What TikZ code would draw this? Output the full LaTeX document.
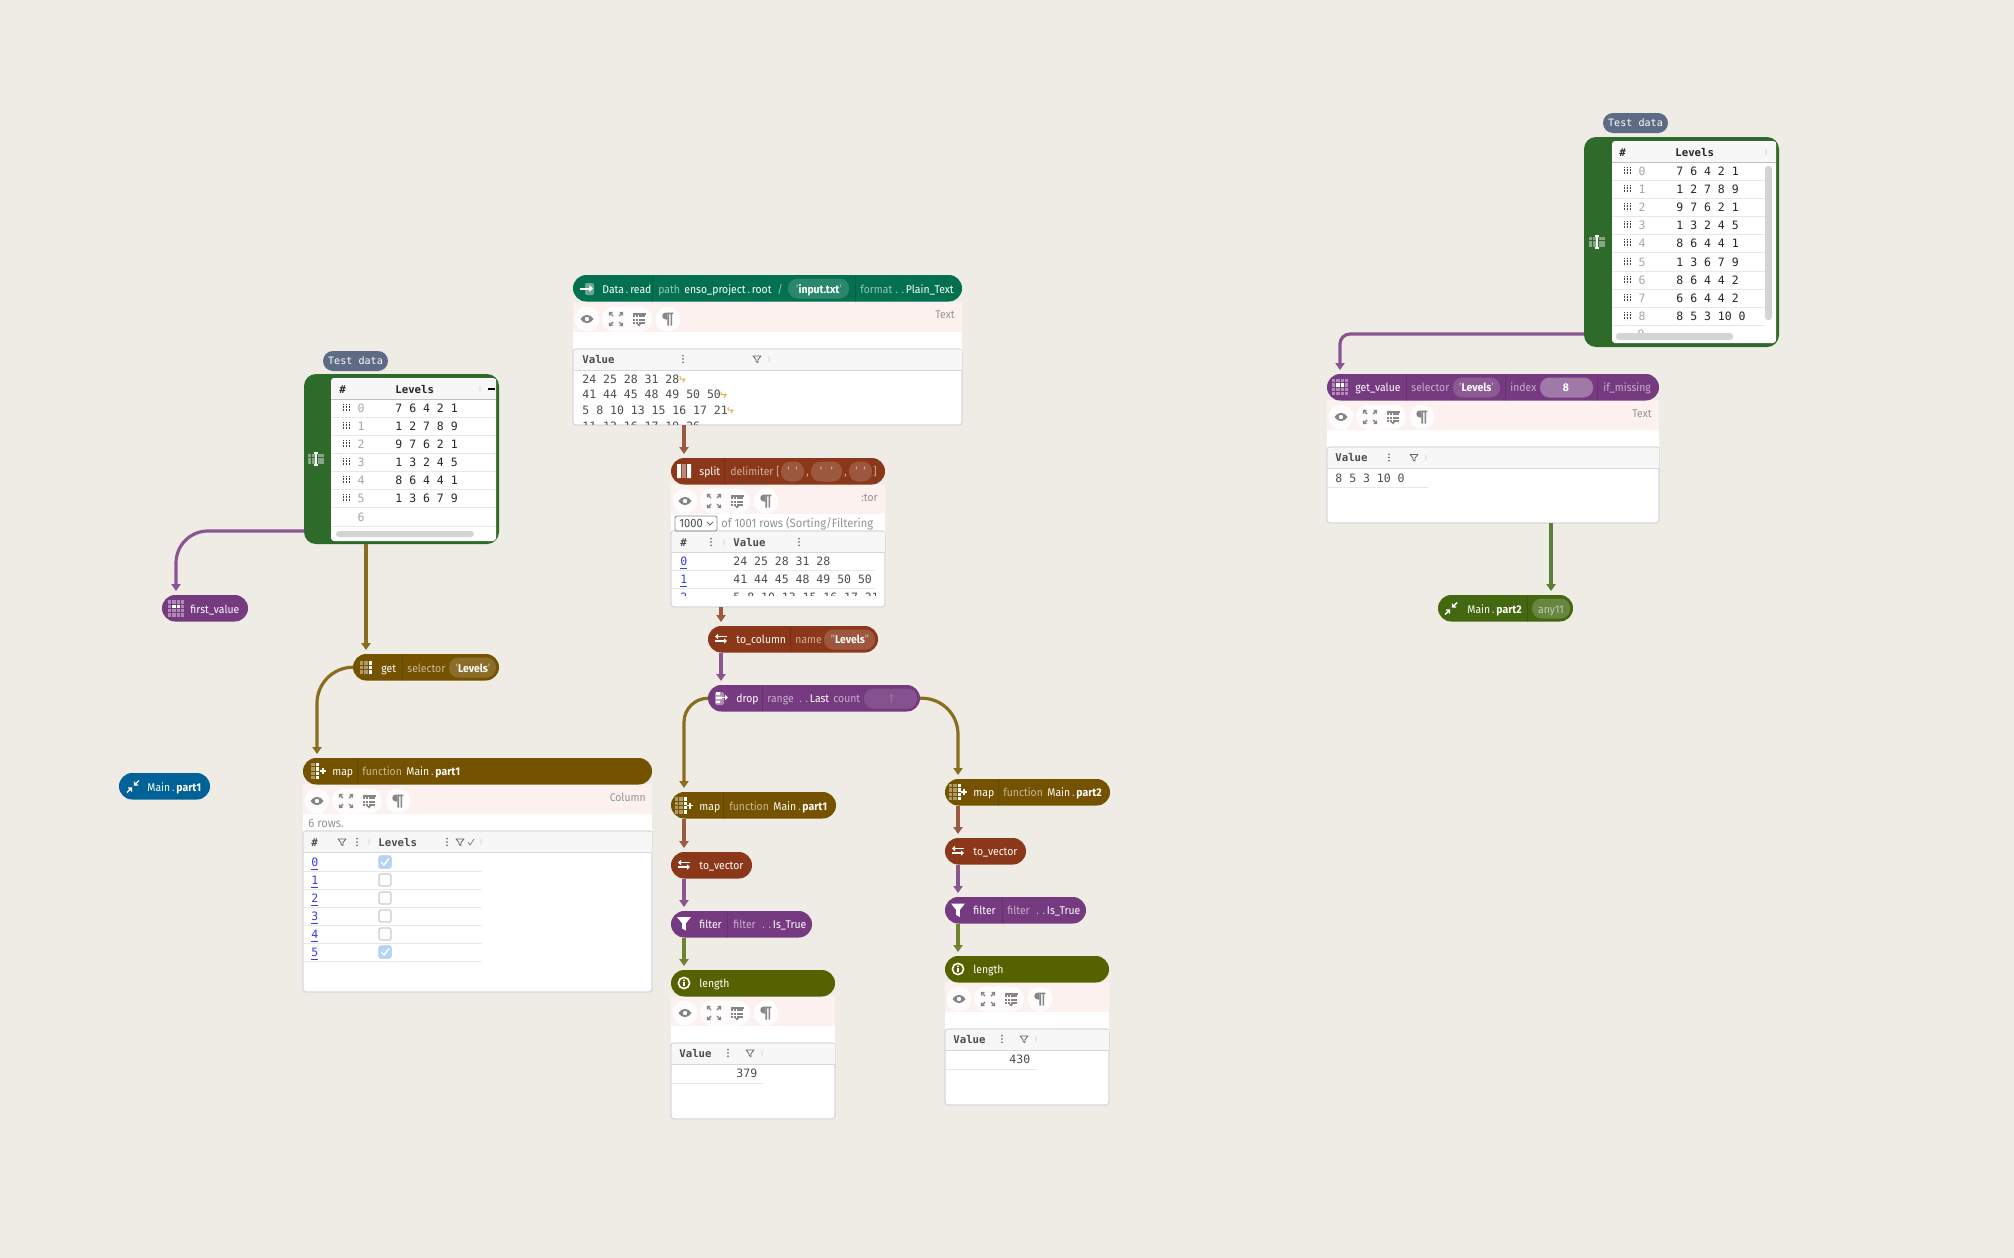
\documentclass[tikz,border=0pt]{standalone}
\usepackage{fontspec}
\setmainfont[FakeStretch=.93]{Fira Sans}
\setmonofont{DejaVu Sans Mono}
\usetikzlibrary{arrows.meta}

\definecolor{canvas}{HTML}{EFECE6}
\definecolor{nodegreen}{HTML}{2E6A2A}
\definecolor{nodepurple}{HTML}{753A80}
\definecolor{nodebrown}{HTML}{8B381A}
\definecolor{nodegold}{HTML}{745200}
\definecolor{nodeolive}{HTML}{556200}
\definecolor{nodeteal}{HTML}{03714F}
\definecolor{nodeblue}{HTML}{006296}
\definecolor{nodeleaf}{HTML}{436810}
\definecolor{nodeslate}{HTML}{5E6B85}
\definecolor{wirepurple}{HTML}{8B5592}
\definecolor{wiregold}{HTML}{8A6D1F}
\definecolor{wirebrown}{HTML}{9B5A3F}
\definecolor{wireolive}{HTML}{6F8232}
\definecolor{wireleaf}{HTML}{5A7F36}
\definecolor{panelpink}{HTML}{FCF1EF}
\definecolor{framegray}{HTML}{D6D7DF}
\definecolor{headgray}{HTML}{F7F7F7}
\definecolor{rulegray}{HTML}{E6E8EF}
\definecolor{icongray}{HTML}{858585}
\definecolor{linkblue}{HTML}{3A3AF0}
\definecolor{tickblue}{HTML}{B3D4F7}
\definecolor{nlorange}{HTML}{E8A84C}

\tikzset{
  pill/.style={rounded corners=6.6pt,text=white},
  wire/.style={line width=1.6pt,-{Triangle[length=3.5pt,width=4.6pt]},shorten >=2pt},
  vizframe/.style={draw=framegray,line width=.6pt,fill=white,rounded corners=1.5pt},
  uitext/.style={anchor=base west,inner sep=0pt,text=white,font=\fontsize{5.6}{6.6}\selectfont},
  dim/.style={text opacity=.6},
  graytext/.style={text=gray!85},
  mono/.style={anchor=base west,inner sep=0pt,text=black!85,font=\fontsize{5.75}{7}\ttfamily\selectfont},
  monogray/.style={mono,text=black!70},
  monohead/.style={font=\fontsize{5.35}{7}\ttfamily\bfseries\selectfont},
  iconline/.style={draw=icongray,line width=.7pt},
  inkline/.style={draw=white,line width=.7pt}
}

\newcounter{lblc}
% x, y of the line's middle, text
\newcommand{\uilbl}[4][]{\stepcounter{lblc}\node[uitext,#1] (ui\thelblc) at (#2,#3+4.5) {#4};}
\newcommand{\monolbl}[4][]{\stepcounter{lblc}\node[mono,#1] (mono\thelblc) at (#2,#3+4.2) {#4};}
\newcommand{\rectnode}[6][]{\node[inner sep=0pt,outer sep=0pt,minimum width={((#5)-(#3))*.5pt},minimum height={((#6)-(#4))*.5pt},#1] (#2) at ({((#3)+(#5))/2},{((#4)+(#6))/2}) {};}
\newcommand{\dotsep}{\,\textcolor{white!65!gray}{.}\,}

% name, x1, x2, top, colour, x of the wires
\newcommand{\pillnode}[6]{\rectnode[pill,fill=#5]{#1}{#2}{#4}{#3}{#4+26.5}\coordinate (#1-port) at (#6,#4+13);}
\newcommand{\pillsep}[2]{\draw[black,draw opacity=.14,line width=.5pt] (#1,#2) -- (#1,#2+26.5);}
\newcommand{\widget}[4][.16]{\fill[white,fill opacity=#1,rounded corners=4.7pt] (#2,#3+3.5) rectangle (#4,#3+23.5);}

% icons, all at x, y
\newcommand{\cellicon}[5]{\begin{scope}[shift={(#1,#2)}]
  \foreach \c in {1,...,#3} \foreach \r in {1,...,#4}
    \fill[white,fill opacity=.42] ({(\c-#3/2-.5)*4.4-1.7},{(\r-#4/2-.5)*4.4-1.7}) rectangle ++(3.4,3.4);
  \foreach \c/\r in {#5}
    \fill[white] ({(\c-#3/2-.5)*4.4-1.7},{(\r-#4/2-.5)*4.4-1.7}) rectangle ++(3.4,3.4);
\end{scope}}
\newcommand{\plusicon}[2]{\draw[inkline,line width=.8pt] (#1+3,#2) -- (#1+9,#2) (#1+6,#2-3) -- (#1+6,#2+3);}
\newcommand{\swapicon}[2]{\begin{scope}[shift={(#1,#2)}]
  \draw[inkline,line width=.9pt,-{Triangle[length=1.5pt,width=2.6pt]}] (6,-2.5) -- (-6,-2.5);
  \draw[inkline,line width=.9pt,-{Triangle[length=1.5pt,width=2.6pt]}] (-6,2) -- (6,2);
\end{scope}}
\newcommand{\mainicon}[2]{\begin{scope}[shift={(#1,#2)}]
  \draw[inkline] (6,-6) -- (1.5,-1.5) (1.5,-5) -- (1.5,-1.5) -- (5,-1.5);
  \draw[inkline] (-6,6) -- (-1.5,1.5) (-1.5,5) -- (-1.5,1.5) -- (-5,1.5);
\end{scope}}
\newcommand{\funnelicon}[2]{\fill[white] (#1-7,#2-6.5) -- (#1+7,#2-6.5) -- (#1+1.8,#2) -- (#1+1.8,#2+7) -- (#1-1.8,#2+5) -- (#1-1.8,#2) -- cycle;}
\newcommand{\infoicon}[2]{\draw[inkline,line width=.8pt] (#1,#2) circle (5.6);\fill[white] (#1-.8,#2-1) rectangle (#1+.8,#2+3.2) (#1-.8,#2-3.4) rectangle (#1+.8,#2-2);}
\newcommand{\cursoricon}[2]{\begin{scope}[shift={(#1,#2)}]
  \foreach \c in {-6.5,-3,3,6.5} \foreach \r in {-3.8,0,3.8}
    \fill[white,fill opacity=.42] (\c-1.5,\r-1.5) rectangle ++(3,3);
  \draw[inkline,line width=.8pt] (0,-6) -- (0,6) (-2,-6) -- (2,-6) (-2,6) -- (2,6);
\end{scope}}
\newcommand{\kebab}[2]{\fill[black!65] (#1,#2-3.2) circle (.9) (#1,#2) circle (.9) (#1,#2+3.2) circle (.9);}
\newcommand{\tickmark}[2]{\draw[rulegray,line width=.6pt] (#1,#2-3) -- (#1,#2+3);}
\newcommand{\filtericon}[2]{\draw[black!60,line width=.4pt,line join=round] (#1-4,#2-3) -- (#1+4,#2-3) -- (#1+1,#2+.5) -- (#1+1,#2+3.6) -- (#1-1,#2+2.4) -- (#1-1,#2+.5) -- cycle;}

% toolbar, frame and header of a visualization: name, x1, x2, bottom of the pill, bottom of the frame
\newcommand{\vizpanel}[5]{
  \fill[panelpink] (#2,#4) rectangle (#3,#4+30);
  \fill[white] (#2,#4+30) rectangle (#3,#4+47);
  \fill[white,fill opacity=.85] (#2+14,#4+17) circle (12.5);
  \fill[white,fill opacity=.85,rounded corners=6pt] (#2+29,#4+4.5) rectangle (#2+79,#4+29.5);
  \fill[white,fill opacity=.85] (#2+95,#4+17) circle (12.5);
  \begin{scope}[shift={(#2+14,#4+17)}]
    \fill[icongray,even odd rule] (-6.5,0) .. controls (-3,-5.5) and (3,-5.5) .. (6.5,0) .. controls (3,5.5) and (-3,5.5) .. (-6.5,0) (0,0) circle (2.3);
  \end{scope}
  \begin{scope}[shift={(#2+43,#4+17)}]
    \foreach \a/\b in {1/1,1/-1,-1/1,-1/-1}
      \draw[iconline] (\a*3,\b*3) -- (\a*6.5,\b*6.5) (\a*3.5,\b*6.5) -- (\a*6.5,\b*6.5) -- (\a*6.5,\b*3.5);
  \end{scope}
  \begin{scope}[shift={(#2+66,#4+17)}]
    \fill[icongray] (-6.5,-6.5) rectangle (6.5,-4.5);
    \foreach \c in {-6.5,-3.2,.1,3.4} \foreach \r in {-3.6,-.4,2.8}
      \fill[icongray] (\c,\r) rectangle ++(2.4,2);
    \fill[icongray] (-2,5.2) -- (2,5.2) -- (0,7.5) -- cycle;
  \end{scope}
  \begin{scope}[shift={(#2+95,#4+17)}]
    \fill[icongray] (.6,-6.5) -- (-2,-6.5) .. controls (-7,-6.5) and (-7,.5) .. (-2,.5) -- (-.6,.5) -- (-.6,-6.5) -- cycle;
    \fill[icongray] (-.6,-6.5) rectangle (1,6.5) (2.6,-6.5) rectangle (4.2,6.5) (-.6,-6.5) rectangle (5.4,-5);
  \end{scope}
  \rectnode[vizframe]{#1}{#2}{#4+47}{#3}{#5}
  \fill[headgray] (#2+.5,#4+47.5) rectangle (#3-.5,#4+68);
  \draw[framegray,line width=.5pt] (#2,#4+68) -- (#3,#4+68);
}
% one row of a test table: left of the table, y, index, values, right end of the rule
\newcommand{\testrow}[5]{
  \foreach \k in {-3,0,3}
    \draw[black!75,line width=.45pt,dash pattern=on .45pt off .35pt] (#1+15+\k,#2-4) -- (#1+15+\k,#2+4);
  \monolbl[anchor=base,text=black!35]{#1+30}{#2}{#3}
  \monolbl{#1+64}{#2}{#4}
  \draw[rulegray,line width=.5pt] (#1,#2+9) -- (#5,#2+9);
}
\newcommand{\boxrow}[3]{
  \monolbl[text=linkblue]{311}{#1}{\underline{#2}}
  \draw[black!20,line width=.6pt,fill=white,rounded corners=1pt] (379,#1-6) rectangle (391,#1+6);
  \draw[rulegray,line width=.5pt] (304,#1+9) -- (482,#1+9);
}
\newcommand{\boxtick}[1]{
  \fill[tickblue,rounded corners=1pt] (378.5,#1-6.5) rectangle (391.5,#1+6.5);
  \draw[white,line width=.7pt] (381,#1) -- (384,#1+3) -- (389,#1-3.5);
}
\newcommand{\nlmark}[2]{\draw[nlorange,line width=.5pt] (#1,#2-3) -- (#1,#2) -- (#1+5,#2) -- (#1+3,#2+3);}

\begin{document}
\begin{tikzpicture}[x=.5pt,y=-.5pt]
  \useasboundingbox[fill=canvas] (0,0) rectangle (2014,1258);

  % test data on the left
  \rectnode[pill,fill=nodeslate,rounded corners=5pt]{labelA}{323}{351}{388}{371}
  \monolbl[anchor=base,text=white,font=\fontsize{5.05}{6}\ttfamily\selectfont]{355.5}{360.5}{Test data}
  \rectnode[fill=nodegreen,rounded corners=6pt]{testA}{304}{374}{499}{544}
  \coordinate (testA-out) at (304,531);
  \cursoricon{316}{459}
  \rectnode[fill=white,rounded corners=1.5pt]{tableA}{331}{378}{496}{541}
  \fill[headgray] (331.5,378.5) rectangle (495.5,399);
  \draw[black!25,line width=.5pt] (331,399) -- (496,399);
  \monolbl[monohead]{339}{389}{\#}
  \monolbl[monohead]{395}{389}{Levels}
  \tickmark{480}{389}
  \draw[black,line width=.7pt] (488,389) -- (495,389);
  \foreach \i/\v/\y in {0/7 6 4 2 1/408,1/1 2 7 8 9/426,2/9 7 6 2 1/444,3/1 3 2 4 5/462,4/8 6 4 4 1/480,5/1 3 6 7 9/498}{
    \testrow{331}{\y}{\i}{\v}{496}
  }
  \monolbl[anchor=base,text=black!35]{361}{517}{6}
  \draw[rulegray,line width=.5pt] (331,526) -- (496,526);
  \fill[black!17,rounded corners=1.5pt] (336,531) rectangle (474,537);

  \pillnode{first}{162}{248}{595}{nodepurple}{176}
  \cellicon{176}{608.5}{4}{4}{2/2,3/2}
  \uilbl{190}{608.5}{first\_value}

  \pillnode{get}{353}{499}{654}{nodegold}{366}
  \cellicon{366}{667.5}{3}{3}{3/1,3/2,3/3}
  \uilbl{381}{667.5}{get}
  \pillsep{402}{654}
  \uilbl[dim]{407}{667.5}{selector}
  \widget{449}{654}{496}
  \uilbl[anchor=base]{473}{667.5}{\textcolor{white!60!nodegold}{'}\textbf{Levels}\textcolor{white!60!nodegold}{'}}

  \vizpanel{frameA}{303}{652}{784}{992}
  \pillnode{mapA}{303}{652}{758}{nodegold}{317}
  \cellicon{315}{771}{2}{4}{2/1,2/2,2/3,2/4}
  \plusicon{317}{771}
  \uilbl{332}{771}{map}
  \pillsep{357}{758}
  \uilbl[dim]{362}{771}{function}
  \uilbl{406}{771}{Main\dotsep\textbf{part1}}
  \uilbl[anchor=base east,graytext]{646}{797}{Column}
  \uilbl[graytext,font=\fontsize{6}{7}\selectfont]{308}{823}{6 rows.}
  \monolbl[monohead,text=black!70]{311}{842}{\#}
  \filtericon{342}{842}
  \kebab{357}{842}
  \tickmark{369}{842}
  \monolbl[monohead,text=black!70]{378}{842}{Levels}
  \kebab{447}{842}
  \filtericon{460}{842}
  \draw[black!50,line width=.4pt] (468,842) -- (470,845) -- (474,839);
  \tickmark{481}{842}
  \foreach \i/\y in {0/862,1/880,2/898,3/916,4/934,5/952}{
    \boxrow{\y}{\i}{}
  }
  \boxtick{862}
  \boxtick{952}

  \pillnode{mainA}{119}{210}{773}{nodeblue}{133}
  \mainicon{133}{786.5}
  \uilbl{147}{786.5}{Main\dotsep\textbf{part1}}

  % middle column
  \vizpanel{frameData}{573}{962}{302}{425}
  \pillnode{data}{573}{962}{275}{nodeteal}{587}
  \fill[white,fill opacity=.4,rounded corners=1pt] (585,283) rectangle (594,295);
  \draw[inkline,line width=1pt,-{Triangle[length=1.8pt,width=3.2pt]}] (580,288.5) -- (593,288.5);
  \uilbl{602}{288.5}{Data\dotsep read}
  \pillsep{652}{275}
  \uilbl[dim]{658}{288.5}{path}
  \uilbl{684}{288.5}{enso\_project\dotsep root}
  \uilbl[dim]{777}{288.5}{/}
  \widget{788}{275}{849}
  \uilbl[anchor=base]{819}{288.5}{\textcolor{white!60!nodeteal}{'}\textbf{input.txt}\textcolor{white!60!nodeteal}{'}}
  \pillsep{855}{275}
  \uilbl[dim]{860}{288.5}{format}
  \uilbl{895}{288.5}{\textcolor{white!60!nodeteal}{. .}\,Plain\_Text}
  \uilbl[anchor=base east,graytext]{955}{313.5}{Text}
  \monolbl[monohead,text=black!70]{582}{359}{Value}
  \kebab{683}{359}
  \filtericon{757}{359}
  \tickmark{769}{359}
  \begin{scope}
    \clip (574,371) rectangle (961,424);
    \monolbl[monogray]{582}{379}{24 25 28 31 28}
    \nlmark{680}{379}
    \monolbl[monogray]{582}{394.5}{41 44 45 48 49 50 50}
    \nlmark{721}{394.5}
    \monolbl[monogray]{582}{410}{5 8 10 13 15 16 17 21}
    \nlmark{728}{410}
    \monolbl[monogray]{582}{426}{11 12 16 17 19 26}
  \end{scope}

  \vizpanel{frameSplit}{671}{885}{484}{607}
  \pillnode{split}{671}{885}{458}{nodebrown}{684}
  \fill[white] (677,464) rectangle (681,478) (687,464) rectangle (691,478);
  \fill[white,fill opacity=.42] (682,464) rectangle (686,478);
  \uilbl{699}{471}{split}
  \pillsep{724}{458}
  \uilbl[dim]{730}{471}{delimiter}
  \uilbl[dim]{776}{471}{[}
  \widget{781}{458}{804}
  \uilbl[dim,anchor=base]{792.5}{471}{'\ \ '}
  \uilbl[dim]{806}{471}{,}
  \widget{811}{458}{842}
  \uilbl[dim,anchor=base]{826.5}{471}{'\ \ \ '}
  \uilbl[dim]{844}{471}{,}
  \widget{849}{458}{872}
  \uilbl[dim,anchor=base]{860.5}{471}{'\ \ '}
  \uilbl[dim]{873}{471}{]}
  \uilbl[anchor=base east,graytext]{878}{497}{:tor}
  \rectnode[draw=black!45,line width=.4pt,rounded corners=1pt]{selectSplit}{675}{516}{717}{531}
  \uilbl[text=black!70,font=\fontsize{6}{7}\selectfont]{679}{523}{1000}
  \draw[black!60,line width=.4pt] (707,522) -- (710,525) -- (713,522);
  \begin{scope}
    \clip (717,510) rectangle (885,531);
    \uilbl[graytext,font=\fontsize{6}{7}\selectfont]{721}{523}{of 1001 rows (Sorting/Filtering}
  \end{scope}
  \monolbl[monohead,text=black!70]{680}{542}{\#}
  \kebab{711}{542}
  \tickmark{724}{542}
  \monolbl[monohead,text=black!70]{733}{542}{Value}
  \kebab{799}{542}
  \begin{scope}
    \clip (672,553) rectangle (875,595);
    \monolbl[text=linkblue]{680}{561}{\underline{0}}
    \monolbl[monogray]{733}{561}{24 25 28 31 28}
    \monolbl[text=linkblue]{680}{579}{\underline{1}}
    \monolbl[monogray]{733}{579}{41 44 45 48 49 50 50}
    \monolbl[text=linkblue]{680}{597}{\underline{2}}
    \monolbl[monogray]{733}{597}{5 8 10 13 15 16 17 21}
    \draw[rulegray,line width=.5pt] (672,570) -- (875,570) (672,588) -- (875,588);
  \end{scope}

  \pillnode{toColumn}{708}{878}{626}{nodebrown}{721}
  \swapicon{721}{639}
  \uilbl{736}{639}{to\_column}
  \pillsep{790}{626}
  \uilbl[dim]{795}{639}{name}
  \widget{824}{626}{875}
  \uilbl[anchor=base]{850}{639}{\textcolor{white!60!nodebrown}{"}\textbf{Levels}\textcolor{white!60!nodebrown}{"}}

  \pillnode{drop}{708}{920}{685}{nodepurple}{721}
  \fill[white,fill opacity=.42,rounded corners=1pt] (715,692) rectangle (724,705);
  \fill[white] (716,692) rectangle (720,695) (716,696.5) rectangle (722,699) (716,700.5) rectangle (720,703);
  \draw[inkline,line width=.8pt,-{Triangle[length=1.5pt,width=2.6pt]}] (719,697.5) -- (728,697.5);
  \uilbl{736}{698}{drop}
  \pillsep{762}{685}
  \uilbl[dim]{767}{698}{range}
  \uilbl{799}{698}{\textcolor{white!60!nodepurple}{. .}\,Last}
  \uilbl[dim]{833}{698}{count}
  \widget[.12]{864}{685}{917}
  \uilbl[anchor=base,text=black!45,font=\fontsize{5.6}{6.6}\itshape\selectfont]{891}{698}{1}

  % left branch
  \pillnode{mapB}{671}{836}{792}{nodegold}{684}
  \cellicon{681}{805.5}{3}{4}{3/1,3/2,3/3,3/4}
  \plusicon{684}{805.5}
  \uilbl{699}{805.5}{map}
  \pillsep{723}{792}
  \uilbl[dim]{729}{805.5}{function}
  \uilbl{773}{805.5}{Main\dotsep\textbf{part1}}

  \pillnode{vectorB}{671}{752}{852}{nodebrown}{684}
  \swapicon{684}{865}
  \uilbl{699}{865}{to\_vector}

  \pillnode{filterB}{671}{812}{911}{nodepurple}{684}
  \funnelicon{684}{923.5}
  \uilbl{699}{924}{filter}
  \pillsep{727}{911}
  \uilbl[dim]{733}{924}{filter}
  \uilbl{762}{924}{\textcolor{white!60!nodepurple}{. .}\,Is\_True}

  \vizpanel{frameB}{671}{835}{996}{1119}
  \pillnode{lengthB}{671}{835}{970}{nodeolive}{684}
  \infoicon{684}{983}
  \uilbl{699}{983}{length}
  \monolbl[monohead,text=black!70]{679}{1053}{Value}
  \kebab{728}{1053}
  \filtericon{750}{1053}
  \tickmark{762}{1053}
  \monolbl[monogray]{736}{1073}{379}
  \draw[rulegray,line width=.5pt] (672,1083) -- (763,1083);

  % right branch
  \pillnode{mapC}{945}{1110}{779}{nodegold}{958}
  \cellicon{955}{792}{3}{4}{3/1,3/2,3/3,3/4}
  \plusicon{958}{792}
  \uilbl{973}{792}{map}
  \pillsep{998}{779}
  \uilbl[dim]{1003}{792}{function}
  \uilbl{1047}{792}{Main\dotsep\textbf{part2}}

  \pillnode{vectorC}{945}{1026}{838}{nodebrown}{958}
  \swapicon{958}{851}
  \uilbl{973}{851}{to\_vector}

  \pillnode{filterC}{945}{1086}{897}{nodepurple}{958}
  \funnelicon{958}{910}
  \uilbl{973}{910}{filter}
  \pillsep{1002}{897}
  \uilbl[dim]{1007}{910}{filter}
  \uilbl{1036}{910}{\textcolor{white!60!nodepurple}{. .}\,Is\_True}

  \vizpanel{frameC}{945}{1109}{982}{1105}
  \pillnode{lengthC}{945}{1109}{956}{nodeolive}{958}
  \infoicon{958}{969}
  \uilbl{973}{969}{length}
  \monolbl[monohead,text=black!70]{953}{1039}{Value}
  \kebab{1002}{1039}
  \filtericon{1024}{1039}
  \tickmark{1036}{1039}
  \monolbl[monogray]{1009}{1059}{430}
  \draw[rulegray,line width=.5pt] (946,1069) -- (1037,1069);

  % test data on the right
  \rectnode[pill,fill=nodeslate,rounded corners=5pt]{labelD}{1603}{113}{1668}{133}
  \monolbl[anchor=base,text=white,font=\fontsize{5.05}{6}\ttfamily\selectfont]{1635.5}{122.5}{Test data}
  \rectnode[fill=nodegreen,rounded corners=6pt]{testD}{1584}{137}{1779}{347}
  \coordinate (testD-out) at (1584,334);
  \cursoricon{1597}{242}
  \rectnode[fill=white,rounded corners=1.5pt]{tableD}{1612}{141}{1776}{343}
  \fill[headgray] (1612.5,141.5) rectangle (1775.5,162);
  \draw[black!25,line width=.5pt] (1612,162) -- (1776,162);
  \monolbl[monohead]{1619}{152}{\#}
  \monolbl[monohead]{1675}{152}{Levels}
  \tickmark{1766}{152}
  \foreach \i/\v/\y in {0/7 6 4 2 1/171,1/1 2 7 8 9/189,2/9 7 6 2 1/207,3/1 3 2 4 5/225,4/8 6 4 4 1/243,5/1 3 6 7 9/262,6/8 6 4 4 2/280,7/6 6 4 4 2/298,8/8 5 3 10 0/316}{
    \testrow{1612}{\y}{\i}{\v}{1765}
  }
  \begin{scope}
    \clip (1612,326) rectangle (1765,333);
    \monolbl[anchor=base,text=black!35]{1641}{334}{9}
  \end{scope}
  \fill[black!17,rounded corners=1.5pt] (1765,166) rectangle (1772,320);
  \fill[black!17,rounded corners=1.5pt] (1616,333) rectangle (1733,340);

  \vizpanel{frameD}{1327}{1659}{400}{523}
  \pillnode{getValue}{1327}{1659}{374}{nodepurple}{1340}
  \cellicon{1340}{387}{4}{4}{2/2,3/2}
  \uilbl{1355}{387}{get\_value}
  \pillsep{1406}{374}
  \uilbl[dim]{1411}{387}{selector}
  \widget{1453}{374}{1500}
  \uilbl[anchor=base]{1476.5}{387}{\textcolor{white!60!nodepurple}{'}\textbf{Levels}\textcolor{white!60!nodepurple}{'}}
  \pillsep{1505}{374}
  \uilbl[dim]{1510}{387}{index}
  \widget[.32]{1540}{374}{1593}
  \uilbl[anchor=base]{1566}{387}{\textbf{8}}
  \pillsep{1597}{374}
  \uilbl[dim]{1603}{387}{if\_missing}
  \uilbl[anchor=base east,graytext]{1652}{412.5}{Text}
  \monolbl[monohead,text=black!70]{1335}{457.5}{Value}
  \kebab{1389}{457.5}
  \filtericon{1414}{457.5}
  \tickmark{1426}{457.5}
  \monolbl[monogray]{1335}{478}{8 5 3 10 0}
  \draw[rulegray,line width=.5pt] (1328,487) -- (1428,487);

  \pillnode{mainD}{1438}{1573}{595}{nodeleaf}{1551}
  \mainicon{1451}{608.5}
  \uilbl{1467}{608.5}{Main\dotsep\textbf{part2}}
  \pillsep{1527}{595}
  \widget[.2]{1532}{595}{1570}
  \uilbl[anchor=base,dim]{1551}{608.5}{any11}

  % edges
  \draw[wire,wirepurple,rounded corners=16pt] (testA-out) -| (first-port |- first.north);
  \draw[wire,wiregold] (get-port |- testA.south) -- (get-port |- get.north);
  \draw[wire,wiregold,rounded corners=18pt] (get.west) -| (mapA-port |- mapA.north);
  \draw[wire,wirebrown] (split-port |- frameData.south) -- (split-port |- split.north);
  \draw[wire,wirebrown] (toColumn-port |- frameSplit.south) -- (toColumn-port |- toColumn.north);
  \draw[wire,wirepurple] (toColumn-port |- toColumn.south) -- (drop-port |- drop.north);
  \draw[wire,wiregold,rounded corners=12pt] (drop.west) -| (mapB-port |- mapB.north);
  \draw[wire,wiregold,rounded corners=18pt] (drop.east) -| (mapC-port |- mapC.north);
  \draw[wire,wirebrown] (mapB-port |- mapB.south) -- (vectorB-port |- vectorB.north);
  \draw[wire,wirepurple] (vectorB-port |- vectorB.south) -- (filterB-port |- filterB.north);
  \draw[wire,wireolive] (filterB-port |- filterB.south) -- (lengthB-port |- lengthB.north);
  \draw[wire,wirebrown] (mapC-port |- mapC.south) -- (vectorC-port |- vectorC.north);
  \draw[wire,wirepurple] (vectorC-port |- vectorC.south) -- (filterC-port |- filterC.north);
  \draw[wire,wireolive] (filterC-port |- filterC.south) -- (lengthC-port |- lengthC.north);
  \draw[wire,wirepurple,rounded corners=5pt] (testD-out) -| (getValue-port |- getValue.north);
  \draw[wire,wireleaf] (mainD-port |- frameD.south) -- (mainD-port |- mainD.north);
\end{tikzpicture}
\end{document}
